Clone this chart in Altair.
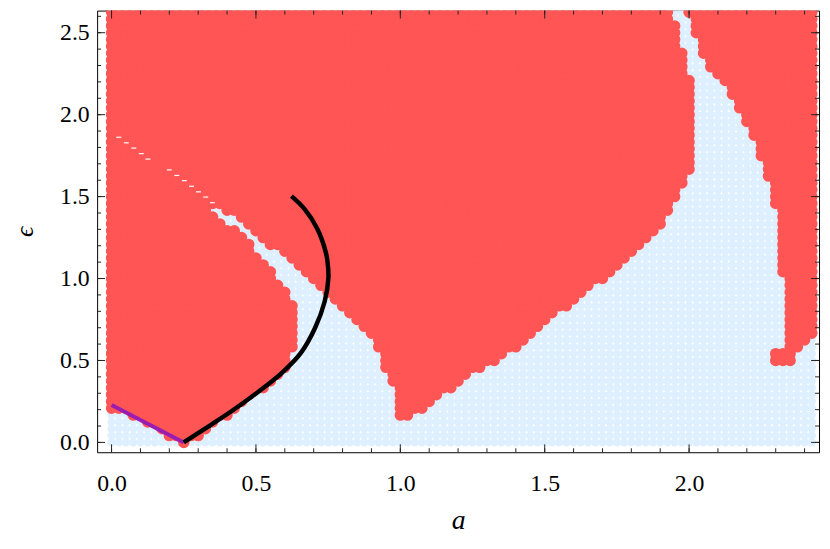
import altair as alt
import numpy as np
import pandas as pd

alt.data_transformers.disable_max_rows()

W, H = 729, 446
X_DOM = [-0.05, 2.45]
Y_DOM = [-0.06, 2.635]

# sampling grid of the scan (a, epsilon)
grid_a_start, grid_a_step, grid_a_n = 0.0, 0.025, 98
grid_e_start, grid_e_step, grid_e_n = 0.0, 1 / 24, 64

# boundary of the large red (unstable) region
main_a = [-0.025, 1.94, 1.945, 1.988, 2.012, 2.019, 2.03, 2.019, 2.012, 1.988, 1.978,
          1.945, 1.899, 1.851, 1.807, 1.762, 1.714, 1.67, 1.532, 1.395, 1.234, 1.19,
          1.131, 1.076, 1.041, 0.99, 0.984, 0.96, 0.932, 0.915, 0.881, 0.754, 0.64,
          0.549, 0.469, 0.411, 0.373, 0.355, 0.373, 0.469, 0.527, 0.555, 0.606, 0.64,
          0.647, 0.64, 0.627, 0.469, 0.367, 0.263, 0.253, 0.126, -0.018, -0.025]
main_e = [2.75, 2.75, 2.64, 2.383, 2.24, 2.084, 1.964, 1.741, 1.623, 1.581, 1.503,
          1.425, 1.281, 1.216, 1.144, 1.066, 0.982, 0.934, 0.754, 0.545, 0.383, 0.323,
          0.246, 0.186, 0.138, 0.138, 0.263, 0.365, 0.467, 0.563, 0.665, 0.862, 1.036,
          1.186, 1.281, 1.383, 1.425, 1.418, 1.401, 1.246, 1.144, 1.072, 0.934, 0.844,
          0.725, 0.605, 0.437, 0.228, 0.096, -0.036, -0.036, 0.09, 0.20, 0.20]

# boundary of the red region on the right
right_a = [1.985, 2.5, 2.5, 2.45, 2.424, 2.397, 2.366, 2.366, 2.284, 2.284, 2.32,
           2.32, 2.31, 2.29, 2.255, 2.184, 2.15, 2.081, 2.029, 1.985]
right_e = [2.75, 2.75, 0.665, 0.665, 0.617, 0.563, 0.515, 0.467, 0.467, 0.593, 0.593,
           0.844, 1.144, 1.443, 1.683, 1.964, 2.084, 2.24, 2.383, 2.64]

# black curve
curve_a = [0.25, 0.343, 0.415, 0.505, 0.59, 0.655, 0.705, 0.738, 0.751, 0.748, 0.742,
           0.712, 0.668, 0.623]
curve_e = [0.0, 0.106, 0.19, 0.305, 0.425, 0.545, 0.70, 0.86, 1.006, 1.10, 1.16,
           1.305, 1.425, 1.503]

# purple line
purple_a = [0.0, 0.25]
purple_e = [0.229, 0.0]

# small white gaps inside the red region
gap_a = [0.025, 0.051, 0.077, 0.103, 0.126, 0.2, 0.226, 0.252, 0.277, 0.301, 0.326, 0.349]
gap_e = [1.862, 1.828, 1.796, 1.762, 1.729, 1.663, 1.629, 1.597, 1.563, 1.529, 1.497, 1.463]

x_major = [0.0, 0.5, 1.0, 1.5, 2.0]
y_major = [0.0, 0.5, 1.0, 1.5, 2.0, 2.5]
x_minor = [round(i * 0.1, 1) for i in range(25)]
y_minor = [round(i * 0.1, 1) for i in range(27)]

RED = "#ff5555"
BLUE = "#def0ff"

sx = W / (X_DOM[1] - X_DOM[0])
sy = H / (Y_DOM[1] - Y_DOM[0])


def in_region(pa, pe, poly_a, poly_e, shrink):
    px, py = pa * sx, pe * sy
    vx, vy = np.array(poly_a) * sx, np.array(poly_e) * sy
    n = len(vx)
    inside = np.zeros(len(px), bool)
    dmin = np.full(len(px), np.inf)
    for i in range(n):
        x1, y1 = vx[i], vy[i]
        x2, y2 = vx[(i + 1) % n], vy[(i + 1) % n]
        if y1 != y2:
            cond = (y1 > py) != (y2 > py)
            xint = x1 + (py - y1) * (x2 - x1) / (y2 - y1)
            inside ^= cond & (px < xint)
        dx, dy = x2 - x1, y2 - y1
        L2 = dx * dx + dy * dy
        t = np.clip(((px - x1) * dx + (py - y1) * dy) / L2, 0, 1)
        d = np.hypot(px - (x1 + t * dx), py - (y1 + t * dy))
        dmin = np.minimum(dmin, d)
    return inside & (dmin >= shrink)


ga = grid_a_start + np.arange(grid_a_n) * grid_a_step
ge = grid_e_start + np.arange(grid_e_n) * grid_e_step
AA, EE = np.meshgrid(ga, ge)
pa, pe = AA.ravel(), EE.ravel()
red = in_region(pa, pe, main_a, main_e, 3.0) | in_region(pa, pe, right_a, right_e, 3.0)

grid_df = pd.DataFrame({"a": pa, "e": pe})
red_df = grid_df[red]

xs = alt.Scale(domain=X_DOM, nice=False, zero=False)
ys = alt.Scale(domain=Y_DOM, nice=False, zero=False)

FONT = "Liberation Serif"

x_axis = alt.Axis(values=x_major, format=".1f", title="a", ticks=False, domain=False,
                  grid=False, labelPadding=20, labelFont=FONT, labelFontSize=24,
                  labelColor="black", titleFont=FONT, titleFontSize=28,
                  titleFontStyle="italic", titleFontWeight="normal", titleColor="black",
                  titlePadding=11)
y_axis = alt.Axis(values=y_major, format=".1f", title="ϵ", ticks=False, domain=False,
                  grid=False, labelPadding=8, labelFont=FONT, labelFontSize=24,
                  labelColor="black", titleFont=FONT, titleFontSize=26,
                  titleFontStyle="italic", titleFontWeight="normal", titleColor="black",
                  titlePadding=22)


def X(field="a"):
    return alt.X(f"{field}:Q", scale=xs, axis=x_axis)


def Y(field="e"):
    return alt.Y(f"{field}:Q", scale=ys, axis=y_axis)


blue_layer = alt.Chart(grid_df).mark_circle(color=BLUE, size=70, opacity=1, clip=True).encode(
    x=X(), y=Y(),
)
red_layer = alt.Chart(red_df).mark_circle(color=RED, size=135, opacity=1, clip=True).encode(
    x=X(), y=Y(),
)
gap_layer = alt.Chart(pd.DataFrame({"a": gap_a, "e": gap_e})).mark_point(
    shape="M-1,0L1,0", size=25, stroke="white", strokeWidth=1.2, filled=False, opacity=1
).encode(x=X(), y=Y())
purple_layer = alt.Chart(pd.DataFrame({"a": purple_a, "e": purple_e})).mark_line(
    color="#9a1cb0", strokeWidth=4
).encode(x=X(), y=Y())
curve_df = pd.DataFrame({"a": curve_a, "e": curve_e, "i": range(len(curve_a))})
curve_layer = alt.Chart(curve_df).mark_line(
    color="black", strokeWidth=4.5, interpolate="catmull-rom"
).encode(x=X(), y=Y(), order="i:O")


def ticks(vals, axis, side, length):
    df = pd.DataFrame({"a": vals, "e": vals})
    mk = alt.Chart(df).mark_rule(color="#222", strokeWidth=1)
    if axis == "x":
        if side == "bottom":
            return mk.encode(x=X(), y=alt.value(H), y2=alt.value(H - length))
        return mk.encode(x=X(), y=alt.value(0), y2=alt.value(length))
    if side == "left":
        return mk.encode(y=Y(), x=alt.value(0), x2=alt.value(length))
    return mk.encode(y=Y(), x=alt.value(W), x2=alt.value(W - length))


tick_layers = [
    ticks(x_minor, "x", "bottom", 4), ticks(x_major, "x", "bottom", 8),
    ticks(x_minor, "x", "top", 4), ticks(x_major, "x", "top", 8),
    ticks(y_minor, "y", "left", 4), ticks(y_major, "y", "left", 8),
    ticks(y_minor, "y", "right", 4), ticks(y_major, "y", "right", 8),
]

chart = alt.layer(
    blue_layer, red_layer, gap_layer, purple_layer, curve_layer, *tick_layers
).properties(
    width=W, height=H,
    autosize=alt.AutoSizeParams(type="none"),
    padding={"left": 90, "top": 0, "right": 3, "bottom": 87},
).configure_view(stroke="black", strokeWidth=1)

chart.save("out.html", embed_options={"renderer": "svg", "actions": False})
